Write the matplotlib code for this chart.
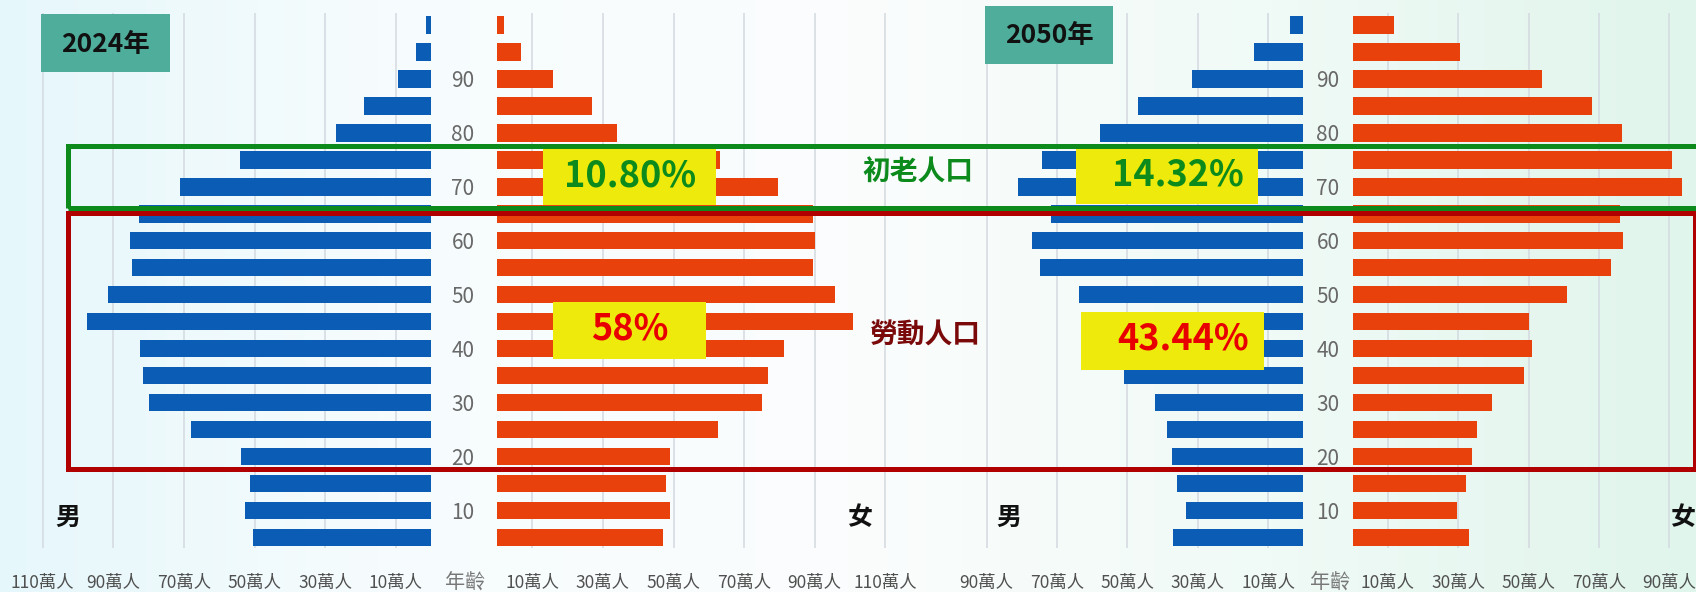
import numpy as np
import matplotlib
matplotlib.use("Agg")
import matplotlib.pyplot as plt
from matplotlib.patches import Rectangle
from matplotlib.colors import LinearSegmentedColormap

plt.rcParams['font.family'] = ['Noto Sans CJK TC', 'DejaVu Sans']

# ---------------- data (萬人), age groups 0-4 ... 95-99 ----------------
age_idx = list(range(20))
age_ticks = [1, 3, 5, 7, 9, 11, 13, 15, 17]
age_labels = ['10', '20', '30', '40', '50', '60', '70', '80', '90']

male_2024 = [50.5, 52.6, 51.3, 53.8, 68.0, 79.8, 81.7, 82.3, 97.5, 91.4,
             84.7, 85.2, 82.8, 71.0, 54.0, 26.9, 18.9, 9.4, 4.2, 1.4]
female_2024 = [47.1, 49.0, 47.8, 49.0, 62.7, 75.0, 76.9, 81.4, 100.9, 95.8,
               89.6, 90.1, 89.6, 79.5, 63.2, 33.9, 26.8, 15.9, 6.8, 2.0]
male_2050 = [37.0, 33.5, 36.0, 37.4, 38.7, 42.1, 50.9, 55.0, 58.0, 63.7,
             74.9, 77.0, 71.7, 81.2, 74.2, 57.8, 47.1, 31.8, 14.1, 3.8]
female_2050 = [33.2, 29.8, 32.2, 34.0, 35.5, 39.7, 48.8, 50.9, 50.2, 61.0,
               73.4, 76.9, 76.0, 93.5, 90.9, 76.5, 68.1, 53.8, 30.5, 11.9]

ticks_2024 = [10, 30, 50, 70, 90, 110]
ticks_2050 = [10, 30, 50, 70, 90]
tick_fmt = '{}萬人'

years = ['2024年', '2050年']
pct_elder = ['10.80%', '14.32%']
pct_work = ['58%', '43.44%']
label_elder = '初老人口'
label_work = '勞動人口'

# ---------------- styling ----------------
W, H = 1696, 592
BLUE = '#0b5cb4'
ORANGE = '#e8410c'
GRID = '#d3d9e0'
GREEN = '#0d8a1c'
DARKRED = '#b00000'
YELLOW = '#eeea0c'
TEAL = '#4fae9b'

fig = plt.figure(figsize=(W / 100, H / 100), dpi=100)

# background gradient
bg = fig.add_axes([0, 0, 1, 1], zorder=-10)
cmap = LinearSegmentedColormap.from_list(
    'bg', [(0.0, '#e6f7fb'), (0.22, '#f6fcfd'), (0.5, '#fbfdfd'),
           (0.75, '#f0faf6'), (1.0, '#e0f5ec')])
bg.imshow(np.linspace(0, 1, 256)[None, :], aspect='auto', cmap=cmap,
          extent=[0, 1, 0, 1])
bg.set_axis_off()

TOP, BOT = 13, 548
ROW_TOP, ROW_BOT = 25.0, 537.3
row_px = (ROW_BOT - ROW_TOP) / 19
ylo = -(BOT - ROW_BOT) / row_px
yhi = 19 + (ROW_TOP - TOP) / row_px


def px_axes(l, r):
    return [l / W, 1 - BOT / H, (r - l) / W, (BOT - TOP) / H]


def make_panel(l, r, zero_px, scale, values, color, ticks, male):
    ax = fig.add_axes(px_axes(l, r))
    ax.patch.set_alpha(0)
    if male:
        vmax = (zero_px - l) / scale
        ax.set_xlim(vmax, 0)
    else:
        vmax = (r - zero_px) / scale
        ax.set_xlim(0, vmax)
    ax.set_ylim(ylo, yhi)
    ax.barh(age_idx, values, height=0.65, color=color, zorder=3)
    ax.set_xticks(ticks)
    ax.set_xticklabels([tick_fmt.format(t) for t in ticks])
    ax.tick_params(axis='x', length=0, pad=18.5, labelsize=12.5,
                   labelcolor='#505050')
    ax.grid(axis='x', color=GRID, lw=1.1, zorder=0)
    ax.set_axisbelow(True)
    for s in ax.spines.values():
        s.set_visible(False)
    ax.set_yticks([])
    return ax


# 2024
make_panel(30, 431, 431, 3.53, male_2024, BLUE, ticks_2024, True)
axf24 = make_panel(497, 895, 497, 3.53, female_2024, ORANGE, ticks_2024, False)
# 2050
make_panel(940, 1303.5, 1303.5, 3.52, male_2050, BLUE, ticks_2050, True)
axf50 = make_panel(1352.5, 1696, 1352.5, 3.52, female_2050, ORANGE, ticks_2050, False)

for ax, pad in [(axf24, 24.5), (axf50, 17.6)]:
    ax.set_yticks(age_ticks)
    ax.set_yticklabels(age_labels)
    ax.tick_params(axis='y', length=0, pad=pad, labelsize=15,
                   labelcolor='#686868')
    for lb in ax.get_yticklabels():
        lb.set_horizontalalignment('center')


def fx(px):
    return px / W


def fy(py):
    return 1 - py / H


def frect(x0, y0, x1, y1, **kw):
    r = Rectangle((fx(x0), fy(y1)), fx(x1) - fx(x0), fy(y0) - fy(y1),
                  transform=fig.transFigure, **kw)
    fig.patches.append(r)
    return r


# year boxes
frect(41, 14.3, 170, 72.3, facecolor=TEAL, edgecolor='none', zorder=5)
fig.text(fx(105.5), fy(44), years[0], ha='center', va='center',
         fontsize=19, fontweight='bold', color='#111111', zorder=6)
frect(985, 6, 1113.3, 64, facecolor=TEAL, edgecolor='none', zorder=5)
fig.text(fx(1049), fy(35.5), years[1], ha='center', va='center',
         fontsize=19, fontweight='bold', color='#111111', zorder=6)

# highlight boxes
frect(68, 212.8, 1695, 469, facecolor='none', edgecolor=DARKRED, lw=3.6, zorder=7)
frect(68, 145.7, 1710, 207.8, facecolor='none', edgecolor=GREEN, lw=3.6, zorder=8)

# yellow percentage boxes
frect(543.3, 148.3, 716, 205, facecolor=YELLOW, edgecolor='none', zorder=6)
fig.text(fx(629.6), fy(176), pct_elder[0], ha='center', va='center',
         fontsize=26, color=GREEN, fontweight='bold', zorder=9)
frect(1075.7, 146.7, 1258.3, 204, facecolor=YELLOW, edgecolor='none', zorder=6)
fig.text(fx(1178), fy(174.5), pct_elder[1], ha='center', va='center',
         fontsize=26, color=GREEN, fontweight='bold', zorder=9)
frect(553.3, 301.7, 706, 359.3, facecolor=YELLOW, edgecolor='none', zorder=6)
fig.text(fx(629.6), fy(329.5), pct_work[0], ha='center', va='center',
         fontsize=26, color='#e80000', fontweight='bold', zorder=9)
frect(1081, 311.7, 1264, 370, facecolor=YELLOW, edgecolor='none', zorder=6)
fig.text(fx(1183), fy(339.5), pct_work[1], ha='center', va='center',
         fontsize=26, color='#e80000', fontweight='bold', zorder=9)

# group labels
fig.text(fx(918), fy(173), label_elder, ha='center', va='center',
         fontsize=20, color=GREEN, fontweight='bold', zorder=9)
fig.text(fx(925), fy(336), label_work, ha='center', va='center',
         fontsize=20, color='#7a0a0a', fontweight='bold', zorder=9)

# sex labels
for x, t in [(67.5, '男'), (1009, '男'), (860, '女'), (1683, '女')]:
    fig.text(fx(x), fy(518), t, ha='center', va='center', fontsize=18,
             fontweight='bold', color='#111111', zorder=9)

# age axis titles
for x in [465, 1330]:
    fig.text(fx(x), fy(583), '年齡', ha='center', va='center', fontsize=14.5,
             color='#777777', zorder=9)

fig.savefig('out.png', dpi=100)
